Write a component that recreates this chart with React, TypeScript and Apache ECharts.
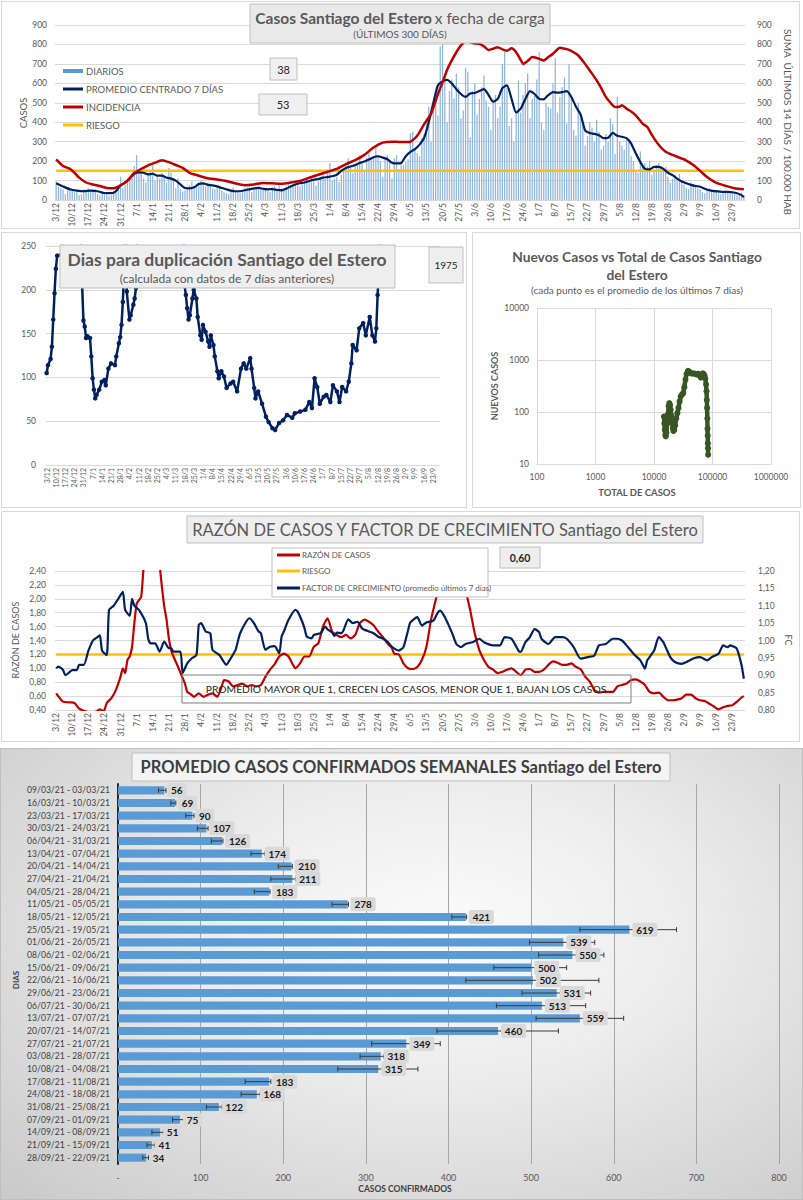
import React, { useEffect, useRef } from "react";
import * as echarts from "echarts";

const FONT = "Lato";
const GRAY = "#595959";

// ---------- day categories (3/12/2020 .. 28/9/2021) ----------
const START_DATE = { y: 2020, m: 11, d: 3 };
const N_DAYS = 300;
const DATES: string[] = [];
{
  const dt = new Date(Date.UTC(START_DATE.y, START_DATE.m, START_DATE.d));
  for (let i = 0; i < N_DAYS; i++) {
    DATES.push(`${dt.getUTCDate()}/${dt.getUTCMonth() + 1}`);
    dt.setUTCDate(dt.getUTCDate() + 1);
  }
}

// ---------- panel 1: daily cases ----------
const DAILY = [
  95, 70, 60, 55, 30, 50, 60, 55, 40, 45,
  25, 30, 55, 50, 60, 50, 45, 55, 30, 25,
  40, 35, 30, 20, 25, 45, 55, 70, 120, 60,
  75, 100, 120, 115, 175, 230, 140, 160, 110, 90,
  130, 150, 180, 100, 130, 110, 140, 120, 90, 165,
  140, 100, 60, 110, 55, 45, 50, 70, 75, 95,
  60, 70, 90, 100, 85, 70, 90, 85, 60, 55,
  75, 65, 50, 40, 35, 30, 45, 65, 50, 40,
  35, 45, 60, 65, 70, 40, 55, 65, 70, 55,
  60, 55, 45, 40, 65, 70, 57,
  75, 60, 50, 70, 80, 78, 70,
  85, 100, 70, 80, 95, 105, 95,
  120, 110, 75, 95, 115, 125, 109,
  140, 190, 100, 110, 120, 92, 130,
  160, 175, 215, 165, 140, 180, 183,
  230, 200, 150, 220, 240, 210, 220,
  280, 230, 200, 120, 215, 230, 202,
  110, 215, 230, 160, 190, 180, 196,
  210, 345, 350, 260, 240, 225, 316,
  340, 420, 480, 300, 460, 512, 435,
  790, 800, 640, 400, 560, 620, 523,
  650, 580, 420, 460, 680, 660, 323,
  560, 600, 440, 520, 580, 640, 510,
  480, 360, 520, 540, 420, 480, 700,
  770, 580, 380, 420, 300, 450, 614,
  450, 540, 600, 650, 420, 520, 537,
  620, 760, 400, 360, 500, 480, 471,
  600, 730, 450, 530, 580, 630, 393,
  700, 520, 360, 330, 500, 420, 390,
  280, 330, 400, 370, 300, 413, 350,
  260, 280, 340, 300, 420, 390, 236,
  530, 300, 280, 260, 310, 300, 225,
  200, 150, 140, 250, 180, 190, 171,
  200, 130, 150, 180, 190, 160, 166,
  170, 120, 90, 110, 130, 100, 134,
  100, 80, 60, 55, 90, 70, 70,
  60, 55, 40, 35, 55, 60, 52,
  45, 50, 35, 30, 40, 45, 42,
  40, 45, 30, 25, 35, 38, 25,
];

// [day index, value]
const AVG7 = [
  [0, 86], [3, 70], [6, 55], [9, 48], [12, 45], [15, 48], [18, 45], [21, 36], [24, 35], [26, 45],
  [28, 75], [30, 90], [32, 110], [34, 135], [36, 142], [38, 140], [40, 132], [42, 135], [44, 125],
  [46, 125], [48, 115], [50, 110], [52, 100], [54, 80], [56, 62], [58, 60], [60, 65], [62, 82],
  [64, 85], [66, 78], [68, 75], [70, 70], [72, 62], [74, 55], [76, 48], [78, 45], [80, 45], [82, 50],
  [84, 55], [86, 60], [88, 62], [90, 58], [92, 55], [94, 56], [96, 52], [98, 50], [100, 58], [102, 70],
  [104, 80], [106, 86], [108, 90], [110, 98], [112, 104], [114, 108], [116, 115], [118, 118], [120, 122],
  [122, 130], [124, 150], [126, 165], [128, 172], [130, 180], [132, 190], [134, 198], [136, 208],
  [138, 220], [140, 225], [142, 218], [144, 210], [146, 192], [148, 188], [150, 190], [152, 225],
  [154, 248], [156, 262], [158, 285], [160, 320], [162, 400], [164, 500], [166, 590], [168, 610],
  [170, 618], [172, 600], [174, 570], [176, 545], [178, 530], [180, 548], [182, 550], [184, 560],
  [186, 570], [188, 540], [190, 505], [192, 520], [194, 575], [196, 590], [198, 520], [200, 450],
  [202, 470], [204, 520], [206, 560], [208, 545], [210, 520], [212, 518], [214, 540], [216, 555],
  [218, 552], [220, 555], [222, 560], [224, 530], [226, 480], [228, 440], [230, 358], [232, 345],
  [234, 340], [236, 333], [238, 318], [240, 320], [242, 345], [244, 330], [246, 325], [248, 318],
  [250, 290], [252, 240], [254, 195], [256, 160], [258, 158], [260, 170], [262, 170], [264, 160],
  [266, 140], [268, 128], [270, 110], [272, 95], [274, 86], [276, 78], [278, 72], [280, 68], [282, 58],
  [284, 50], [286, 46], [288, 44], [290, 42], [292, 42], [294, 40], [296, 35], [298, 25], [299, 15],
];

const INCIDENCIA = [
  [0, 209], [3, 175], [6, 160], [8, 140], [10, 115], [13, 90], [16, 80], [19, 72], [22, 62], [25, 60],
  [28, 75], [31, 100], [34, 140], [37, 160], [40, 178], [43, 192], [46, 205], [49, 195], [52, 180],
  [55, 165], [58, 140], [62, 125], [66, 112], [70, 106], [74, 98], [78, 85], [82, 76], [86, 80],
  [90, 88], [94, 86], [98, 84], [102, 90], [106, 98], [110, 115], [114, 130], [118, 145], [122, 160],
  [126, 185], [130, 205], [134, 232], [138, 270], [142, 295], [146, 300], [150, 298], [154, 300],
  [157, 330], [160, 390], [163, 443], [166, 545], [168, 605], [170, 670], [172, 718], [174, 760],
  [176, 795], [178, 815], [180, 812], [182, 805], [184, 803], [186, 790], [188, 772], [190, 778],
  [192, 786], [194, 775], [196, 768], [198, 780], [200, 760], [202, 720], [203, 700], [205, 715],
  [207, 735], [209, 730], [212, 718], [214, 735], [216, 752], [218, 775], [219, 783], [221, 778],
  [223, 772], [225, 760], [227, 743], [229, 715], [231, 683], [233, 650], [235, 615], [237, 575],
  [239, 530], [241, 500], [243, 478], [245, 480], [246, 487], [248, 470], [250, 455], [252, 435],
  [255, 393], [257, 375], [259, 335], [261, 299], [263, 270], [265, 248], [268, 232], [271, 218],
  [274, 203], [277, 180], [280, 150], [283, 118], [286, 95], [289, 80], [292, 70], [295, 60], [299, 55],
];
const RIESGO_CASOS = 150;
const BOX_38 = "38";
const BOX_53 = "53";

// ---------- panel 2: doubling days ----------
const DUPLICACION = [
  [0, 105], [1, 114], [3, 121], [4, 135], [5, 166], [6, 196], [7, 224], [8, 239], [11, 240], [12, 262],
  [18, 500], [26, 270], [27, 205], [28, 165], [29, 158], [30, 145], [31, 147], [33, 145], [34, 124],
  [35, 99], [36, 86], [37, 76], [38, 80], [40, 86], [42, 95], [44, 97], [45, 91], [47, 110], [49, 116],
  [52, 114], [53, 124], [55, 139], [56, 146], [57, 160], [58, 186], [59, 224], [60, 320], [61, 198],
  [63, 166], [64, 171], [66, 183], [67, 190], [68, 202], [70, 300], [85, 600], [104, 300], [105, 205],
  [106, 194], [107, 179], [108, 166], [109, 171], [111, 190], [112, 200], [114, 190], [115, 169],
  [117, 148], [118, 143], [119, 160], [121, 152], [123, 141], [124, 135], [125, 148], [127, 137],
  [128, 124], [130, 107], [131, 99], [133, 107], [135, 101], [137, 88], [140, 93], [142, 95], [145, 84],
  [148, 110], [150, 116], [152, 110], [155, 122], [156, 110], [158, 88], [159, 76], [161, 84], [164, 70],
  [167, 55], [169, 49], [172, 42], [174, 40], [177, 48], [180, 51], [183, 57], [187, 54], [189, 59],
  [193, 61], [197, 63], [200, 72], [202, 65], [204, 99], [206, 89], [208, 70], [211, 78], [213, 80],
  [216, 72], [218, 91], [221, 84], [223, 72], [225, 89], [228, 84], [230, 95], [232, 116], [233, 137],
  [236, 131], [238, 156], [241, 162], [243, 148], [246, 169], [248, 148], [250, 141], [251, 156],
  [252, 194], [253, 224], [254, 300],
];
const BOX_1975 = "1975";

// ---------- panel 3: new vs total (log-log) ----------
const NUEVOS_VS_TOTAL = [
  [14800, 82], [15000, 60], [15300, 45], [15600, 36], [15900, 34], [16300, 40], [16800, 60], [17300, 90],
  [17800, 130], [18300, 148], [18800, 135], [19300, 110], [19800, 85], [20400, 62], [21000, 48],
  [21500, 43], [22200, 45], [23000, 55], [24000, 75], [25100, 95], [26200, 120], [27400, 160],
  [28600, 200], [30000, 215], [31500, 230], [33000, 300], [34500, 420], [36000, 540], [38000, 620],
  [40000, 600], [42500, 560], [45000, 545], [48000, 555], [51000, 540], [54000, 520], [57000, 545],
  [60000, 510], [63000, 460], [65500, 520], [68000, 555], [70500, 540], [73000, 500], [75500, 440],
  [77500, 340], [79000, 250], [80000, 170], [80800, 120], [81500, 75], [82200, 48], [82800, 35],
  [83300, 25], [83800, 20], [84200, 15],
];

// ---------- panel 4: ratio and growth factor ----------
const RAZON = [
  [0, 0.64], [3, 0.52], [6, 0.51], [8, 0.5], [10, 0.42], [12, 0.39], [14, 0.37], [16, 0.36], [18, 0.39],
  [19, 0.41], [20, 0.39], [21, 0.4], [22, 0.5], [24, 0.57], [26, 0.69], [28, 0.88], [29, 1.0], [30, 0.93],
  [31, 1.12], [32, 1.17], [33, 1.31], [34, 1.65], [35, 1.93], [36, 1.98], [37, 2.03], [38, 2.45], [40, 3.2],
  [42, 3.5], [44, 3.0], [45, 2.5], [46, 2.17], [47, 1.89], [48, 1.7], [49, 1.43], [50, 1.26], [51, 1.17],
  [53, 1.02], [55, 0.86], [56, 0.78], [57, 0.66], [58, 0.64], [60, 0.59], [62, 0.64], [64, 0.59],
  [66, 0.62], [68, 0.64], [70, 0.59], [72, 0.74], [73, 0.83], [75, 0.81], [77, 0.74], [79, 0.76],
  [81, 0.78], [83, 0.74], [85, 0.76], [87, 0.74], [89, 0.76], [91, 0.88], [93, 0.98], [95, 1.06],
  [97, 1.17], [99, 1.21], [101, 1.17], [103, 1.05], [104, 1.0], [106, 1.07], [108, 1.17], [110, 1.17],
  [112, 1.31], [114, 1.36], [116, 1.6], [118, 1.72], [120, 1.53], [122, 1.48], [124, 1.45], [126, 1.48],
  [128, 1.43], [130, 1.48], [132, 1.65], [134, 1.7], [136, 1.67], [138, 1.62], [140, 1.53], [142, 1.45],
  [144, 1.36], [146, 1.29], [147, 1.21], [149, 1.2], [151, 1.07], [153, 1.0], [155, 0.99], [157, 1.02],
  [159, 1.12], [161, 1.31], [163, 1.7], [165, 1.98], [167, 2.25], [168, 2.42], [170, 3.0], [173, 3.2],
  [175, 2.8], [177, 2.32], [178, 2.13], [180, 1.84], [182, 1.5], [184, 1.26], [186, 1.12], [188, 1.02],
  [190, 0.98], [192, 0.93], [194, 0.95], [196, 0.98], [198, 1.0], [200, 0.95], [202, 0.9], [204, 0.98],
  [206, 0.99], [208, 0.95], [210, 0.95], [212, 0.98], [214, 1.05], [216, 1.1], [218, 1.08], [220, 1.05],
  [222, 1.05], [224, 1.07], [226, 1.02], [228, 0.99], [230, 0.88], [232, 0.81], [234, 0.69], [236, 0.65],
  [238, 0.66], [240, 0.66], [242, 0.66], [244, 0.74], [246, 0.76], [248, 0.78], [250, 0.83], [252, 0.84],
  [254, 0.81], [256, 0.76], [258, 0.66], [260, 0.64], [262, 0.65], [264, 0.59], [266, 0.54], [268, 0.54],
  [270, 0.55], [272, 0.57], [274, 0.62], [276, 0.62], [278, 0.57], [280, 0.54], [282, 0.53], [284, 0.49],
  [286, 0.45], [288, 0.41], [290, 0.44], [292, 0.46], [294, 0.47], [296, 0.52], [298, 0.58], [299, 0.6],
];
const FACTOR = [
  [0, 0.92], [1, 0.925], [3, 0.915], [4, 0.9], [6, 0.91], [7, 0.915], [9, 0.915], [10, 0.93], [12, 0.93],
  [14, 0.97], [16, 1.0], [18, 1.01], [19, 1.015], [20, 0.97], [22, 0.958], [23, 1.088], [25, 1.1],
  [27, 1.12], [29, 1.14], [30, 1.088], [32, 1.071], [33, 1.12], [34, 1.1], [36, 1.088], [39, 1.05],
  [40, 1.006], [41, 0.992], [43, 0.992], [45, 0.968], [47, 0.997], [49, 0.978], [50, 0.978], [51, 0.968],
  [54, 0.968], [55, 0.907], [57, 0.934], [59, 0.949], [61, 0.958], [62, 1.045], [63, 1.05], [65, 1.026],
  [67, 1.021], [68, 0.973], [71, 0.958], [74, 0.93], [75, 0.939], [78, 0.973], [80, 1.021], [84, 1.064],
  [86, 1.05], [88, 1.026], [89, 1.021], [91, 0.973], [93, 0.982], [95, 0.984], [97, 0.963], [98, 1.011],
  [99, 1.026], [101, 1.059], [104, 1.088], [105, 1.083], [107, 1.054], [108, 1.035], [109, 1.011],
  [111, 1.006], [112, 1.016], [115, 1.021], [117, 1.04], [118, 1.032], [120, 1.023], [121, 1.013],
  [122, 1.023], [124, 1.021], [125, 1.03], [127, 1.061], [129, 1.05], [131, 1.054], [133, 1.035],
  [136, 1.026], [138, 1.021], [140, 1.011], [142, 1.006], [144, 0.997], [146, 0.982], [148, 0.973],
  [149, 0.971], [151, 0.981], [153, 1.029], [154, 1.052], [157, 1.067], [159, 1.043], [161, 1.052],
  [164, 1.057], [166, 1.081], [167, 1.086], [169, 1.067], [172, 1.024], [174, 0.99], [176, 0.981],
  [178, 0.99], [181, 0.995], [184, 1.005], [186, 0.995], [190, 0.986], [193, 0.986], [195, 1.01],
  [198, 1.005], [201, 0.971], [202, 0.967], [204, 0.995], [206, 1.01], [208, 1.033], [210, 1.024],
  [211, 1.005], [214, 0.99], [217, 1.01], [220, 1.01], [222, 1.005], [225, 0.981], [228, 0.948],
  [231, 0.952], [234, 0.957], [236, 0.986], [239, 0.99], [242, 1.005], [244, 1.005], [246, 1.0],
  [248, 0.986], [251, 0.962], [254, 0.943], [256, 0.919], [257, 0.943], [260, 0.971], [262, 1.01],
  [264, 0.995], [265, 0.981], [267, 0.952], [269, 0.938], [272, 0.933], [274, 0.938], [277, 0.948],
  [280, 0.952], [283, 0.943], [285, 0.952], [288, 0.962], [290, 0.986], [292, 0.981], [293, 0.986],
  [295, 0.981], [296, 0.976], [298, 0.929], [299, 0.89],
];
const RIESGO_RAZON = 1.2;
const BOX_060 = "0,60";

// ---------- panel 5: weekly averages ----------
const SEMANAS = [
  "09/03/21 - 03/03/21", "16/03/21 - 10/03/21", "23/03/21 - 17/03/21", "30/03/21 - 24/03/21",
  "06/04/21 - 31/03/21", "13/04/21 - 07/04/21", "20/04/21 - 14/04/21", "27/04/21 - 21/04/21",
  "04/05/21 - 28/04/21", "11/05/21 - 05/05/21", "18/05/21 - 12/05/21", "25/05/21 - 19/05/21",
  "01/06/21 - 26/05/21", "08/06/21 - 02/06/21", "15/06/21 - 09/06/21", "22/06/21 - 16/06/21",
  "29/06/21 - 23/06/21", "06/07/21 - 30/06/21", "13/07/21 - 07/07/21", "20/07/21 - 14/07/21",
  "27/07/21 - 21/07/21", "03/08/21 - 28/07/21", "10/08/21 - 04/08/21", "17/08/21 - 11/08/21",
  "24/08/21 - 18/08/21", "31/08/21 - 25/08/21", "07/09/21 - 01/09/21", "14/09/21 - 08/09/21",
  "21/09/21 - 15/09/21", "28/09/21 - 22/09/21",
];
const PROMEDIO_SEMANAL = [56, 69, 90, 107, 126, 174, 210, 211, 183, 278, 421, 619, 539, 550, 500, 502, 531, 513, 559, 460, 349, 318, 315, 183, 168, 122, 75, 51, 41, 34];
const ERROR_BAJO = [49, 64, 82, 96, 113, 161, 194, 185, 165, 259, 404, 559, 498, 509, 455, 421, 489, 458, 506, 386, 307, 293, 266, 154, 149, 107, 66, 41, 35, 30];
const ERROR_ALTO = [58, 70, 92, 109, 127, 178, 211, 215, 184, 279, 422, 676, 577, 588, 543, 582, 572, 566, 612, 533, 390, 322, 363, 185, 172, 126, 80, 55, 45, 37];

// ---------- helpers ----------
const txt = (text: string, x: number, y: number, o: any = {}) => ({
  type: "text",
  x,
  y,
  z: 101,
  rotation: o.rot || 0,
  style: {
    text,
    fill: o.color || GRAY,
    fontSize: o.size || 11,
    fontWeight: o.weight || "normal",
    fontFamily: FONT,
    align: o.align || "center",
    textAlign: o.align || "center",
    verticalAlign: "middle",
    textVerticalAlign: "middle",
    rich: o.rich,
  },
});
const box = (x: number, y: number, w: number, h: number, o: any = {}) => ({
  type: "rect",
  z: 100,
  shape: { x, y, width: w, height: h },
  style: { fill: o.fill === undefined ? "#ececec" : o.fill, stroke: o.stroke || "#bfbfbf", lineWidth: 1 },
});
const seg = (x1: number, y1: number, x2: number, y2: number, color: string, w = 3) => ({
  type: "line",
  z: 101,
  shape: { x1, y1, x2, y2 },
  style: { stroke: color, lineWidth: w },
});

const NAVY = "#002060";
const RED = "#C00000";
const YELLOW = "#FFC000";

const dateLabel = (size: number) => ({
  interval: (i: number) => i % 7 === 0,
  rotate: 90,
  fontSize: size,
  color: GRAY,
  margin: 3,
});
const comma = (v: number) => v.toFixed(2).replace(".", ",");
const plain = (v: number) => String(Math.round(v));

function buildOption(): any {
  const graphic: any[] = [
    // panel 1
    box(250, 4, 300, 39, { fill: "#e9e9e9" }),
    txt("{b|Casos Santiago del Estero} {n|x fecha de carga}", 400, 18, {
      rich: {
        b: { fontSize: 15.5, fontWeight: "bold", fill: GRAY, fontFamily: FONT },
        n: { fontSize: 15.5, fill: GRAY, fontFamily: FONT },
      },
    }),
    txt("(ÚLTIMOS 300 DÍAS)", 400, 34, { size: 10 }),
    box(270, 58, 27, 22, { fill: "#f0f0f0" }),
    txt(BOX_38, 283.5, 69, { size: 11, color: "#262626" }),
    box(259, 94, 48, 21, { fill: "#f0f0f0" }),
    txt(BOX_53, 283, 104.5, { size: 11, color: "#262626" }),
    { type: "rect", z: 101, shape: { x: 63, y: 69, width: 20, height: 4 }, style: { fill: "#5B9BD5" } },
    txt("DIARIOS", 86, 71, { size: 9.5, align: "left" }),
    seg(63, 89, 83, 89, NAVY),
    txt("PROMEDIO CENTRADO 7 DÍAS", 86, 89, { size: 9.5, align: "left" }),
    seg(63, 107, 83, 107, RED),
    txt("INCIDENCIA", 86, 107, { size: 9.5, align: "left" }),
    seg(63, 125, 83, 125, YELLOW),
    txt("RIESGO", 86, 125, { size: 9.5, align: "left" }),
    txt("CASOS", 23, 113, { size: 9.5, rot: Math.PI / 2 }),
    txt("SUMA  ÚLTIMOS 14 DÍAS / 100.000 HAB", 788, 122, { size: 10, rot: -Math.PI / 2 }),
    // panel 2
    box(60, 245, 335, 43, { fill: "#eeeeee" }),
    txt("Dias para duplicación Santiago del Estero", 227, 259, { size: 17.5, weight: "bold" }),
    txt("(calculada con datos de 7 días anteriores)", 227, 278, { size: 12 }),
    box(429, 247, 34, 36, { fill: "#eeeeee" }),
    txt(BOX_1975, 446, 265, { size: 10, color: "#262626" }),
    // panel 3
    txt("Nuevos Casos vs Total de Casos Santiago", 637, 256, { size: 13.8, weight: "bold" }),
    txt("del Estero", 637, 274, { size: 13.8, weight: "bold" }),
    txt("(cada punto es el promedio de los últimos 7 días)", 637, 290, { size: 10 }),
    txt("TOTAL DE CASOS", 637, 492, { size: 9.5, weight: "bold" }),
    txt("NUEVOS CASOS", 494, 386, { size: 9, weight: "bold", rot: Math.PI / 2 }),
    // panel 4
    box(187, 516, 516, 27, { fill: "#eeeeee" }),
    txt("RAZÓN DE CASOS Y FACTOR DE CRECIMIENTO Santiago del Estero", 445, 530, { size: 16.5 }),
    box(272, 548, 216, 49, { fill: "#ffffff" }),
    seg(277, 555, 300, 555, RED),
    txt("RAZÓN DE CASOS", 302, 555, { size: 8, align: "left" }),
    seg(277, 571, 300, 571, YELLOW),
    txt("RIESGO", 302, 571, { size: 8, align: "left" }),
    seg(277, 588, 300, 588, NAVY),
    txt("FACTOR DE CRECIMIENTO (promedio últimos 7 días)", 302, 588, { size: 8, align: "left" }),
    box(500, 547, 40, 21, { fill: "#eeeeee" }),
    txt(BOX_060, 520, 557.5, { size: 10.5, weight: "bold", color: "#262626" }),
    box(182, 675, 449, 28, { fill: "none", stroke: "#7f7f7f" }),
    txt("PROMEDIO MAYOR QUE 1, CRECEN LOS CASOS, MENOR QUE 1, BAJAN LOS CASOS", 406, 689, { size: 10.3, color: "#262626" }),
    txt("RAZÓN DE CASOS", 15, 640, { size: 9, rot: Math.PI / 2 }),
    txt("FC", 788, 640, { size: 9, rot: -Math.PI / 2 }),
    // panel 5
    box(132, 753, 538, 28, { fill: "#f4f4f4" }),
    txt("PROMEDIO CASOS CONFIRMADOS SEMANALES Santiago del Estero", 401, 767, { size: 16.5, weight: "bold", color: "#404040" }),
    txt("DIAS", 16, 980, { size: 8, weight: "bold", color: "#404040", rot: Math.PI / 2 }),
    txt("CASOS CONFIRMADOS", 405, 1189, { size: 8.5, weight: "bold", color: "#404040" }),
  ];

  const splitGray = { show: true, lineStyle: { color: "#d9d9d9", width: 1 } };
  const axLine = { show: true, lineStyle: { color: "#d9d9d9" } };

  return {
    animation: false,
    textStyle: { fontFamily: FONT },
    grid: [
      { left: 55, top: 25, width: 690, height: 175 },
      { left: 46, top: 246, width: 394, height: 219 },
      { left: 537, top: 308, width: 234, height: 156 },
      { left: 55, top: 571, width: 690, height: 139 },
      { left: 118, top: 784, width: 661, height: 380 },
    ],
    xAxis: [
      { gridIndex: 0, type: "category", data: DATES, axisTick: { show: false }, axisLine: axLine, axisLabel: dateLabel(8.5) },
      { gridIndex: 1, type: "category", data: DATES, axisTick: { show: false }, axisLine: axLine, axisLabel: dateLabel(7) },
      {
        gridIndex: 2, type: "log", logBase: 10, min: 100, max: 1000000,
        axisTick: { show: false }, axisLine: axLine, splitLine: splitGray,
        axisLabel: { fontSize: 8.5, color: GRAY, margin: 8, formatter: plain },
      },
      { gridIndex: 3, type: "category", data: DATES, axisTick: { show: false }, axisLine: axLine, axisLabel: dateLabel(8.5) },
      {
        gridIndex: 4, type: "value", min: 0, max: 800, interval: 100,
        axisLine: { show: false }, axisTick: { show: false },
        splitLine: { show: true, lineStyle: { color: "#a6a6a6" } },
        axisLabel: { fontSize: 9, color: GRAY, margin: 9, formatter: (v: number) => (v === 0 ? "-" : String(v)) },
      },
    ],
    yAxis: [
      {
        gridIndex: 0, type: "value", min: 0, max: 900, interval: 100, splitLine: splitGray,
        axisLine: { show: false }, axisTick: { show: false }, axisLabel: { fontSize: 8.5, color: GRAY, margin: 8 },
      },
      {
        gridIndex: 0, type: "value", position: "right", min: 0, max: 900, interval: 100, splitLine: { show: false },
        axisLine: { show: false }, axisTick: { show: false }, axisLabel: { fontSize: 8.5, color: GRAY, margin: 12 },
      },
      {
        gridIndex: 1, type: "value", min: 0, max: 250, interval: 50, splitLine: splitGray,
        axisLine: { show: false }, axisTick: { show: false }, axisLabel: { fontSize: 8.5, color: GRAY, margin: 10 },
      },
      {
        gridIndex: 2, type: "log", logBase: 10, min: 10, max: 10000, splitLine: splitGray,
        axisLine: axLine, axisTick: { show: false }, axisLabel: { fontSize: 8.5, color: GRAY, margin: 8, formatter: plain },
      },
      {
        gridIndex: 3, type: "value", min: 0.4, max: 2.4, interval: 0.2, splitLine: splitGray,
        axisLine: { show: false }, axisTick: { show: false },
        axisLabel: { fontSize: 8.5, color: GRAY, margin: 9, formatter: comma },
      },
      {
        gridIndex: 3, type: "value", position: "right", min: 0.8, max: 1.2, interval: 0.05, splitLine: { show: false },
        axisLine: { show: false }, axisTick: { show: false },
        axisLabel: { fontSize: 8.5, color: GRAY, margin: 13, formatter: comma },
      },
      {
        gridIndex: 4, type: "category", data: SEMANAS, inverse: true,
        axisTick: { show: false }, axisLine: { show: true, lineStyle: { color: "#262626", width: 2 } },
        axisLabel: { fontSize: 8.6, color: "#404040", margin: 8 },
      },
    ],
    series: [
      // panel 1
      {
        type: "bar", xAxisIndex: 0, yAxisIndex: 0, data: DAILY, barCategoryGap: "45%",
        itemStyle: { color: "#8fb6e0" }, z: 2,
      },
      {
        type: "line", xAxisIndex: 0, yAxisIndex: 0, data: [[0, RIESGO_CASOS], [N_DAYS - 1, RIESGO_CASOS]],
        showSymbol: false, lineStyle: { color: YELLOW, width: 2.5 }, z: 3,
      },
      {
        type: "line", xAxisIndex: 0, yAxisIndex: 0, data: AVG7, showSymbol: false, smooth: 0.2,
        lineStyle: { color: NAVY, width: 2.2 }, z: 4,
      },
      {
        type: "line", xAxisIndex: 0, yAxisIndex: 1, data: INCIDENCIA, showSymbol: false, smooth: 0.2,
        lineStyle: { color: RED, width: 2.5 }, z: 5,
      },
      // panel 2
      {
        type: "line", xAxisIndex: 1, yAxisIndex: 2, data: DUPLICACION, clip: true,
        symbol: "circle", symbolSize: 4.5, showAllSymbol: true,
        itemStyle: { color: NAVY }, lineStyle: { color: NAVY, width: 2.5 }, z: 4,
      },
      // panel 3
      {
        type: "line", xAxisIndex: 2, yAxisIndex: 3, data: NUEVOS_VS_TOTAL,
        symbol: "circle", symbolSize: 6, showAllSymbol: true,
        itemStyle: { color: "#375623" }, lineStyle: { color: "#375623", width: 4.5 }, z: 4,
      },
      // panel 4
      {
        type: "line", xAxisIndex: 3, yAxisIndex: 4, data: [[0, RIESGO_RAZON], [N_DAYS - 1, RIESGO_RAZON]],
        showSymbol: false, lineStyle: { color: YELLOW, width: 2.5 }, z: 3,
      },
      {
        type: "line", xAxisIndex: 3, yAxisIndex: 4, data: RAZON, showSymbol: false, smooth: 0.2, clip: true,
        lineStyle: { color: RED, width: 2.2 }, z: 4,
      },
      {
        type: "line", xAxisIndex: 3, yAxisIndex: 5, data: FACTOR, showSymbol: false, smooth: 0.2, clip: true,
        lineStyle: { color: NAVY, width: 2.2 }, z: 5,
      },
      // panel 5
      {
        type: "bar", xAxisIndex: 4, yAxisIndex: 6, data: PROMEDIO_SEMANAL, barCategoryGap: "36%",
        itemStyle: { color: "#5B9BD5" }, z: 2,
      },
      {
        type: "custom", xAxisIndex: 4, yAxisIndex: 6, z: 6,
        data: PROMEDIO_SEMANAL.map((v, i) => [v, i, ERROR_BAJO[i], ERROR_ALTO[i]]),
        encode: { x: 0, y: 1 },
        renderItem: (_p: any, api: any) => {
          const val = api.value(0);
          const idx = api.value(1);
          const pV = api.coord([val, idx]);
          const pL = api.coord([api.value(2), idx]);
          const pH = api.coord([api.value(3), idx]);
          const y = pV[1];
          const label = String(val);
          const w = label.length * 6 + 7;
          const st = { stroke: "#3a3a3a", lineWidth: 1 };
          return {
            type: "group",
            children: [
              { type: "line", shape: { x1: pL[0], y1: y, x2: pH[0], y2: y }, style: st },
              { type: "line", shape: { x1: pL[0], y1: y - 2.5, x2: pL[0], y2: y + 2.5 }, style: st },
              { type: "line", shape: { x1: pH[0], y1: y - 2.5, x2: pH[0], y2: y + 2.5 }, style: st },
              { type: "rect", shape: { x: pV[0] + 3, y: y - 7, width: w, height: 14, r: 2 }, style: { fill: "#d9d9d9" } },
              {
                type: "text", x: pV[0] + 3 + w / 2, y,
                style: {
                  text: label, fill: "#1a1a1a", fontSize: 10, fontWeight: "bold", fontFamily: FONT,
                  align: "center", verticalAlign: "middle",
                },
              },
            ],
          };
        },
      },
    ],
    graphic: { elements: graphic },
  };
}

export default function App() {
  const ref = useRef<HTMLDivElement>(null);
  useEffect(() => {
    if (!ref.current) return;
    const chart = echarts.init(ref.current, undefined, { renderer: "svg" });
    chart.setOption(buildOption());
    return () => chart.dispose();
  }, []);
  const panel = (l: number, t: number, w: number, h: number, extra: any = {}) => ({
    position: "absolute" as const,
    left: l,
    top: t,
    width: w,
    height: h,
    boxSizing: "border-box" as const,
    border: "1px solid #d9d9d9",
    background: "#ffffff",
    ...extra,
  });
  return (
    <div style={{ position: "absolute", left: 0, top: 0, width: 803, height: 1200, background: "#ffffff", overflow: "hidden" }}>
      <div style={panel(1, 1, 799, 228)} />
      <div style={panel(1, 232, 466, 276)} />
      <div style={panel(472, 232, 329, 276)} />
      <div style={panel(1, 511, 799, 231)} />
      <div
        style={panel(0, 748, 803, 452, {
          border: "1px solid #bfbfbf",
          background: "radial-gradient(ellipse at 55% 40%, #fbfbfb 0%, #ececec 40%, #c9c9c9 100%)",
        })}
      />
      <div ref={ref} style={{ position: "absolute", left: 0, top: 0, width: 803, height: 1200 }} />
    </div>
  );
}
